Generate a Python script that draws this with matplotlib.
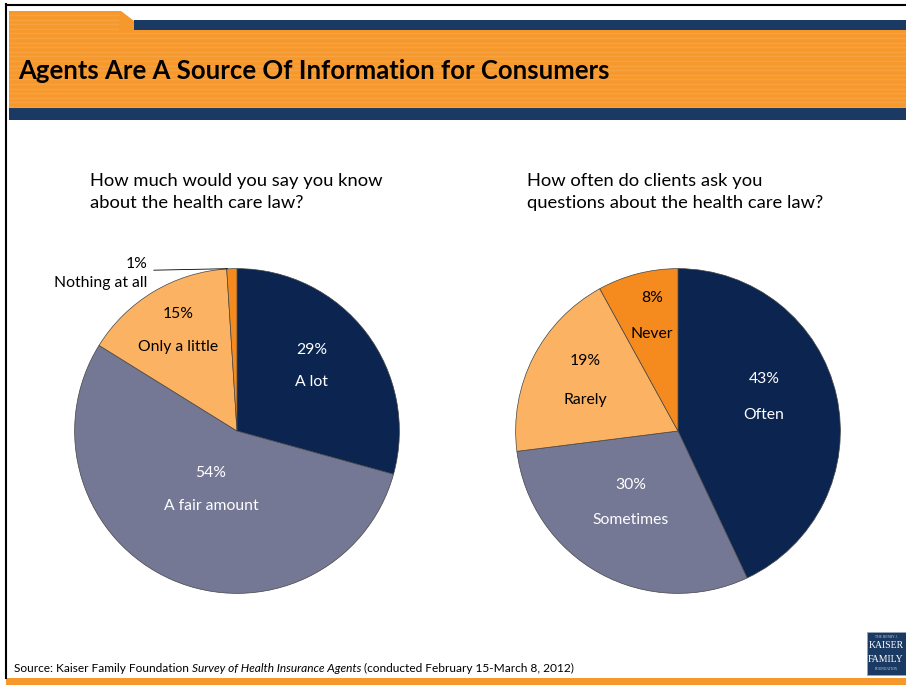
import numpy as np
import matplotlib.pyplot as plt
from matplotlib.patches import Rectangle, Polygon

# survey results (percent)
know_labels = ["A lot", "A fair amount", "Only a little", "Nothing at all"]
know_values = [29, 54, 15, 1]
ask_labels = ["Often", "Sometimes", "Rarely", "Never"]
ask_values = [43, 30, 19, 8]

title = "Agents Are A Source Of Information for Consumers"
q_know = "How much would you say you know\nabout the health care law?"
q_ask = "How often do clients ask you\nquestions about the health care law?"

NAVY = "#0b2550"
GREY = "#747895"
LIGHT = "#fbb262"
ORANGE = "#f58a1f"
BAND = "#f7982c"
BAND_NAVY = "#1a3a64"
pie_colors = [NAVY, GREY, LIGHT, ORANGE]

W, H = 906, 685
plt.rcParams['font.family'] = ['Lato', 'DejaVu Sans']
fig = plt.figure(figsize=(W / 100, H / 100), dpi=100)

# background axes in pixel units (y pointing down)
bg = fig.add_axes([0, 0, 1, 1])
bg.set_xlim(0, W)
bg.set_ylim(H, 0)
bg.axis('off')

# header: tab, navy strip, orange band with faint stripes, navy rule
bg.add_patch(Polygon([(9, 11), (121, 11), (146, 30), (9, 30)], closed=True,
                     facecolor=BAND, edgecolor='none'))
bg.add_patch(Rectangle((134, 20), W - 134, 10, facecolor=BAND_NAVY, edgecolor='none'))
bg.add_patch(Rectangle((9, 30), W - 9, 78, facecolor=BAND, edgecolor='none'))
for y in np.arange(15, 108, 4.6):
    x1 = W if y > 30 else 118
    bg.plot([9, x1], [y, y], color='white', alpha=0.10, lw=1.0)
bg.add_patch(Rectangle((9, 108), W - 9, 12, facecolor=BAND_NAVY, edgecolor='none'))
bg.text(18, 71, title, fontsize=18.5, fontweight='bold', color='black',
        ha='left', va='center')

# slide frame
bg.plot([6, 6], [4, 678], color='black', lw=1.5)
bg.plot([6, W], [4.5, 4.5], color='black', lw=1.5)
bg.add_patch(Rectangle((6, 678), W - 6, 8, facecolor=BAND, edgecolor='none'))

# question headings
bg.text(90, 192, q_know, fontsize=13.2, ha='left', va='center', linespacing=1.42)
bg.text(527, 192, q_ask, fontsize=13.2, ha='left', va='center', linespacing=1.42)

# source line, title of the survey in italics
parts = [("Source: Kaiser Family Foundation ", 'normal'),
         ("Survey of Health Insurance Agents", 'italic'),
         (" (conducted February 15-March 8, 2012)", 'normal')]
fig.canvas.draw()
x = 14
for txt, st in parts:
    t = bg.text(x, 668, txt, fontsize=8.6, style=st, ha='left', va='center')
    bb = t.get_window_extent(renderer=fig.canvas.get_renderer())
    x = bg.transData.inverted().transform((bb.x1, 0))[0]

# logo block
bg.add_patch(Rectangle((867, 632), 39, 43, facecolor=BAND_NAVY, edgecolor='#9aa6b8', lw=0.6))
bg.text(886, 637, "THE HENRY J.", fontsize=2.6, color='#c8d0dc', ha='center', va='center',
        family='Liberation Serif')
bg.text(886, 646, "KAISER", fontsize=7, color='white', ha='center', va='center',
        family='Liberation Serif')
bg.text(886, 659, "FAMILY", fontsize=7, color='white', ha='center', va='center',
        family='Liberation Serif')
bg.text(886, 669, "FOUNDATION", fontsize=2.6, color='#c8d0dc', ha='center', va='center',
        family='Liberation Serif')

R = 164


def pie_axes(cx, cy):
    return fig.add_axes([(cx - R) / W, (H - cy - R) / H, 2 * R / W, 2 * R / H])


def draw_pie(ax, values):
    wedges, _ = ax.pie(values, colors=pie_colors, startangle=90, counterclock=False,
                       wedgeprops=dict(edgecolor='#444444', linewidth=0.5))
    ax.set_xlim(-1.01, 1.01)
    ax.set_ylim(-1.01, 1.01)
    ax.set_aspect('equal')
    ax.axis('off')
    return wedges


FS = 11.3

# left pie
axl = pie_axes(237, 431)
draw_pie(axl, know_values)
know_pos = [(0.46, 0.40), (-0.16, -0.36), (-0.36, 0.62)]
for lab, val, (x, y) in zip(know_labels[:3], know_values[:3], know_pos):
    col = 'white' if lab in ("A lot", "A fair amount") else 'black'
    axl.text(x, y + 0.1, f"{val}%", ha='center', va='center', fontsize=FS, color=col)
    axl.text(x, y - 0.1, lab, ha='center', va='center', fontsize=FS, color=col)
# callout for the smallest slice
axl.annotate("", xy=(-0.04, 1.0), xytext=(-0.53, 0.99),
             arrowprops=dict(arrowstyle='-', color='black', lw=0.6))
axl.text(-0.55, 1.03, f"{know_values[3]}%", ha='right', va='center', fontsize=FS,
         clip_on=False)
axl.text(-0.55, 0.91, know_labels[3], ha='right', va='center', fontsize=FS,
         clip_on=False)

# right pie
axr = pie_axes(678, 431)
draw_pie(axr, ask_values)
ask_pos = [(0.53, 0.21), (-0.29, -0.44), (-0.57, 0.31), (-0.16, 0.71)]
for lab, val, (x, y) in zip(ask_labels, ask_values, ask_pos):
    col = 'white' if lab in ("Often", "Sometimes") else 'black'
    dy = 0.11 if lab != "Rarely" else 0.12
    axr.text(x, y + dy, f"{val}%", ha='center', va='center', fontsize=FS, color=col)
    axr.text(x, y - dy, lab, ha='center', va='center', fontsize=FS, color=col)

fig.savefig("out.png", dpi=100)
